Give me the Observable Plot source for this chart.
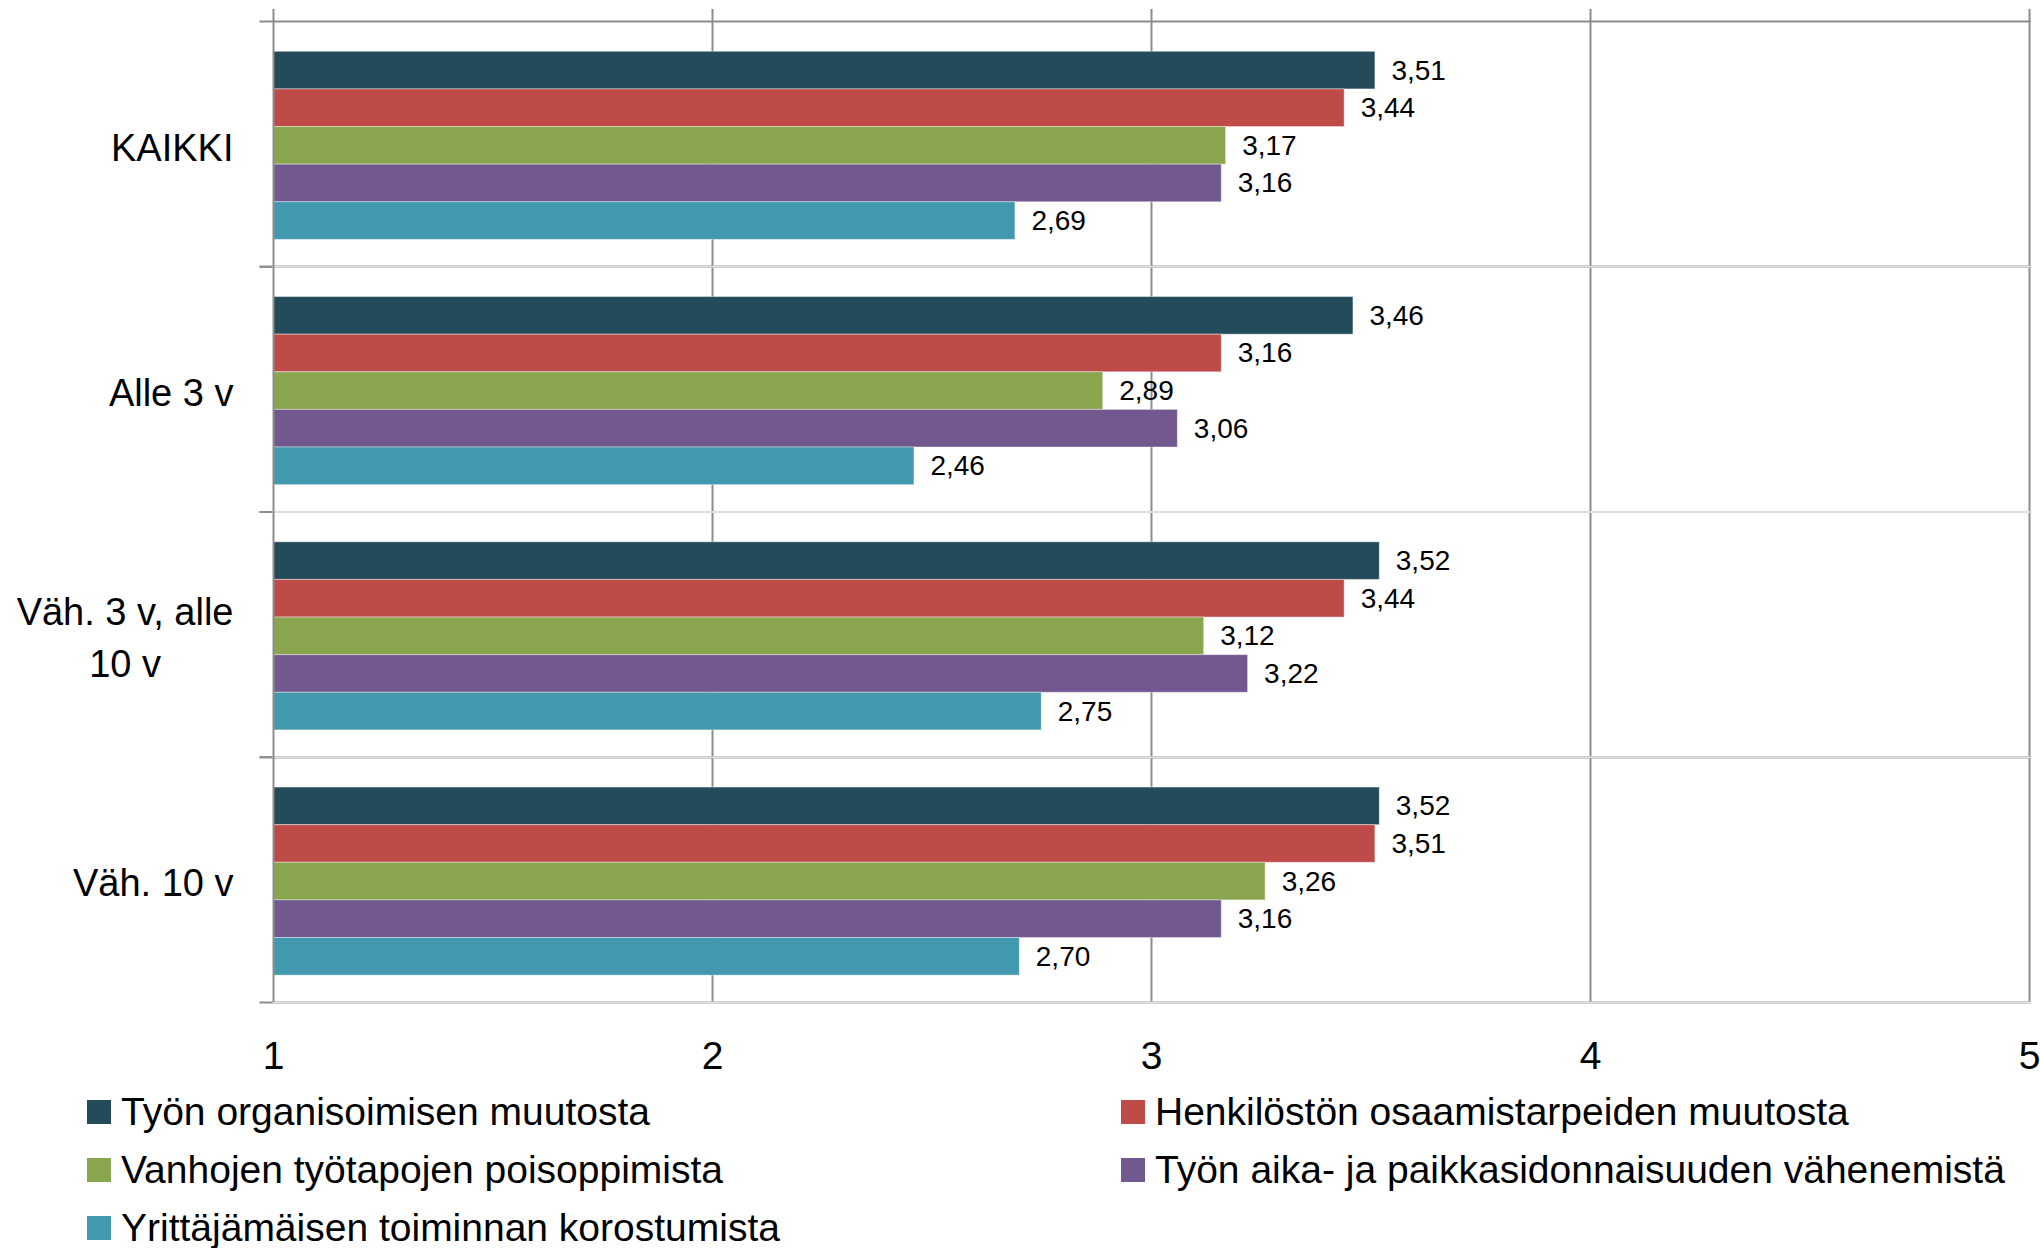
<!DOCTYPE html>
<html><head><meta charset="utf-8">
<script src="https://cdn.jsdelivr.net/npm/d3@7"></script>
<script src="https://cdn.jsdelivr.net/npm/@observablehq/plot@0.6"></script>
<style>
body{margin:0;background:#fff;font-family:"Liberation Sans",Arial,sans-serif;}
#chart{width:2040px;}
#chart svg{display:block;}
.legend{display:grid;grid-template-columns:1034px auto;padding-left:87px;padding-top:3px;}
.item{display:flex;align-items:center;height:58px;font-size:39px;color:#000;white-space:nowrap;}
.sw{width:24px;height:24px;margin-right:10px;flex:none;}
</style></head><body><div id="chart"></div>
<script>
const categories = ["KAIKKI", "Alle 3 v", "Väh. 3 v, alle 10 v", "Väh. 10 v"];
const series = [
  "Työn organisoimisen muutosta",
  "Henkilöstön osaamistarpeiden muutosta",
  "Vanhojen työtapojen poisoppimista",
  "Työn aika- ja paikkasidonnaisuuden vähenemistä",
  "Yrittäjämäisen toiminnan korostumista"
];
const organisointi = [3.51, 3.46, 3.52, 3.52];
const osaaminen = [3.44, 3.16, 3.44, 3.51];
const poisoppiminen = [3.17, 2.89, 3.12, 3.26];
const aikaPaikka = [3.16, 3.06, 3.22, 3.16];
const yrittajamaisyys = [2.69, 2.46, 2.75, 2.70];
const colors = ["#244B5A", "#BE4B48", "#89A54E", "#71588F", "#4198AF"];
const tickValues = [1, 2, 3, 4, 5];

const seriesValues = [organisointi, osaaminen, poisoppiminen, aikaPaikka, yrittajamaisyys];
const data = categories.flatMap((c, i) => series.map((s, j) => ({cat: c, series: s, value: seriesValues[j][i]})));
const fmt = v => v.toFixed(2).replace(".", ",");

const chart = Plot.plot({
  width: 2040, height: 1080,
  marginLeft: 273, marginRight: 11, marginTop: 21, marginBottom: 78,
  style: {fontFamily: '"Liberation Sans", Arial, sans-serif', fontSize: "38px", color: "#000", background: "#fff"},
  x: {domain: [1, 5]},
  y: {domain: series, paddingInner: 0, paddingOuter: 0.76, align: 0.53, round: false, axis: null},
  fy: {domain: categories, padding: 0, round: false},
  color: {domain: series, range: colors},
  marks: [
    Plot.gridX(tickValues.slice(1), {stroke: "#8c8c8c", strokeOpacity: 1, strokeWidth: 2}),
    Plot.frame({anchor: "top", stroke: "#8c8c8c", strokeWidth: 2, insetLeft: -13}),
    Plot.frame({anchor: "bottom", stroke: "#8c8c8c", strokeWidth: 2, insetLeft: -13}),
    Plot.frame({anchor: "bottom", stroke: "#dedede", strokeWidth: 2}),
    Plot.barX(data, {fy: "cat", y: "series", x1: 1, x2: "value", fill: "series", stroke: "#fff", strokeOpacity: 0.4, strokeWidth: 1}),
    Plot.ruleX([1], {stroke: "#8c8c8c", strokeWidth: 2}),
    Plot.text(data, {fy: "cat", y: "series", x: "value", text: d => fmt(d.value), textAnchor: "start", dx: 16, fontSize: 28, fill: "#000"}),
    Plot.axisX({anchor: "top", ticks: tickValues, tickSize: 13, tickFormat: () => "", stroke: "#8c8c8c", strokeWidth: 2, label: null}),
    Plot.axisX({anchor: "bottom", ticks: tickValues, tickSize: 0, tickPadding: 39, tickFormat: d3.format("d"), fontSize: 39, label: null, fill: "#000"}),
    Plot.axisFy({anchor: "left", tickSize: 0, tickPadding: 40, fontSize: 38, label: null, lineWidth: 6.5, lineHeight: 1.35, fill: "#000"})
  ]
});
document.getElementById("chart").appendChild(chart);

// center multi-line category labels like the original
d3.select(chart).selectAll('[aria-label="fy-axis tick label"] text').each(function() {
  const tsp = Array.from(this.querySelectorAll("tspan"));
  if (tsp.length > 1) {
    const w = d3.max(tsp, t => t.getComputedTextLength());
    this.setAttribute("text-anchor", "middle");
    tsp.forEach(t => t.setAttribute("x", -w / 2));
  }
});

const legend = d3.select("#chart").append("div").attr("class", "legend");
const items = legend.selectAll(".item").data(series).join("div").attr("class", "item");
items.append("div").attr("class", "sw").style("background", (d, i) => colors[i]);
items.append("span").text(d => d);
</script>
</body></html>
